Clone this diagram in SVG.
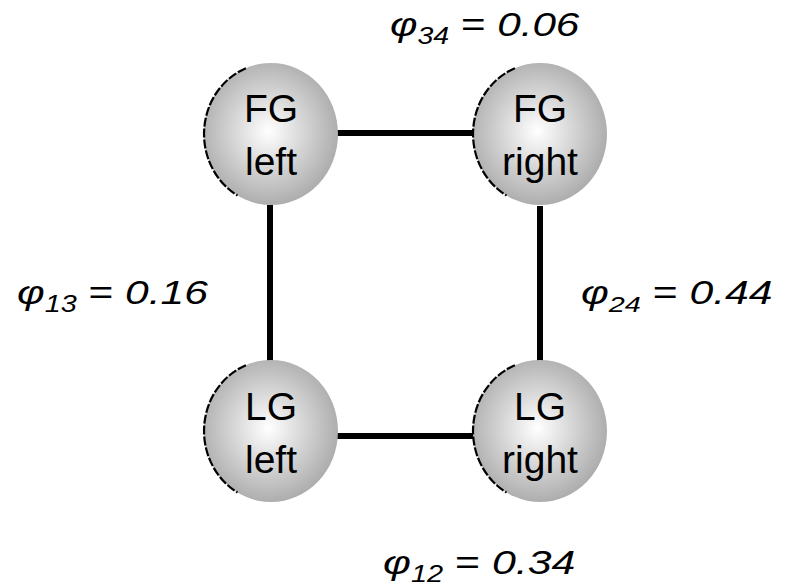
<svg xmlns="http://www.w3.org/2000/svg" width="790" height="587" viewBox="0 0 790 587">
<style>
.node-fill{fill:url(#g);}
.rim{fill:none;stroke:#000;stroke-width:2.2;stroke-dasharray:9 2;}
.lbl{font-family:"Liberation Sans",Arial,sans-serif;font-size:39px;fill:#000;text-anchor:middle;}
.eq{font-family:"Liberation Sans",Arial,sans-serif;font-size:34px;font-style:italic;fill:#000;}
.sub{font-size:23px;}
.op{font-style:normal;}
.edge{stroke:#000;stroke-width:6;fill:none;}
</style>
<defs>
<radialGradient id="g" cx="0.48" cy="0.48" r="0.55">
<stop offset="0" stop-color="#ffffff"/>
<stop offset="1" stop-color="#a9a9a9"/>
</radialGradient>
</defs>
<rect width="790" height="587" fill="#fff"/>
<g id="connectors">
<line class="edge" x1="337" y1="133" x2="473" y2="133"/>
<line class="edge" x1="337" y1="436" x2="473" y2="436"/>
<line class="edge" x1="270" y1="205" x2="270" y2="361"/>
<line class="edge" x1="540" y1="206" x2="540" y2="361"/>
</g>
<g id="fg-left">
<ellipse class="node-fill" cx="271" cy="134" rx="67" ry="71"/>
<path class="rim" d="M245.9,68.2 A67,71 0 0 0 237.5,195.5"/>
<text class="lbl" x="271" y="122">FG</text>
<text class="lbl" x="271" y="175">left</text>
</g>
<g id="fg-right">
<ellipse class="node-fill" cx="540" cy="134" rx="67" ry="71"/>
<path class="rim" d="M514.9,68.2 A67,71 0 0 0 506.5,195.5"/>
<text class="lbl" x="540" y="122">FG</text>
<text class="lbl" x="540" y="175">right</text>
</g>
<g id="lg-left">
<ellipse class="node-fill" cx="271" cy="431" rx="67" ry="71"/>
<path class="rim" d="M245.9,365.2 A67,71 0 0 0 237.5,492.5"/>
<text class="lbl" x="271" y="420">LG</text>
<text class="lbl" x="271" y="473">left</text>
</g>
<g id="lg-right">
<ellipse class="node-fill" cx="540" cy="431" rx="67" ry="71"/>
<path class="rim" d="M514.9,365.2 A67,71 0 0 0 506.5,492.5"/>
<text class="lbl" x="540" y="420">LG</text>
<text class="lbl" x="540" y="473">right</text>
</g>
<g id="labels">
<text class="eq" transform="translate(390,36) scale(1.24,1)" x="0" y="0">φ<tspan class="sub" dy="8">34</tspan><tspan class="op" dy="-8"> = </tspan>0.06</text>
<text class="eq" transform="translate(17,304) scale(1.25,1)" x="0" y="0">φ<tspan class="sub" dy="8">13</tspan><tspan class="op" dy="-8"> = </tspan>0.16</text>
<text class="eq" transform="translate(581,304) scale(1.255,1)" x="0" y="0">φ<tspan class="sub" dy="8">24</tspan><tspan class="op" dy="-8"> = </tspan>0.44</text>
<text class="eq" transform="translate(383,574) scale(1.26,1)" x="0" y="0">φ<tspan class="sub" dy="8">12</tspan><tspan class="op" dy="-8"> = </tspan>0.34</text>
</g>
</svg>
